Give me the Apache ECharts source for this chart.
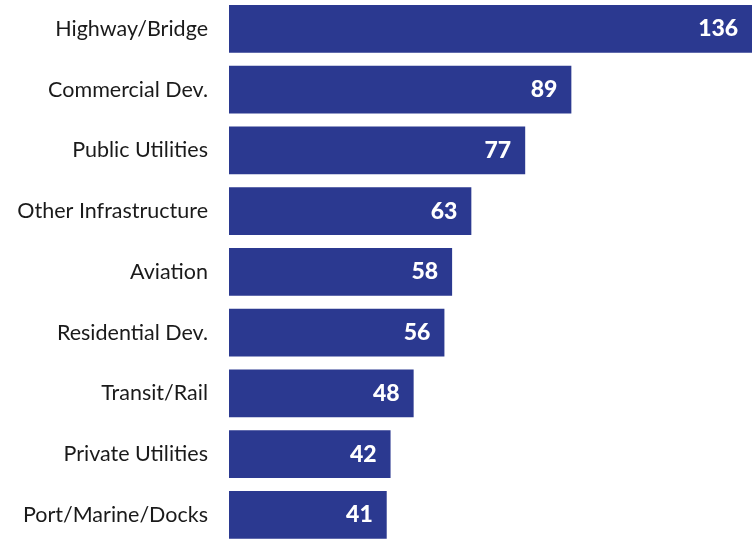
<!DOCTYPE html>
<html><head><meta charset="utf-8">
<script src="https://cdn.jsdelivr.net/npm/echarts@6/dist/echarts.min.js"></script>
<style>html,body{margin:0;padding:0;background:#fff;overflow:hidden;width:752px;height:541px}
#c{position:absolute;left:0;top:-2px;width:756px;height:548px}</style>
</head><body><div id="c"></div>
<script>
const categories = ["Highway/Bridge","Commercial Dev.","Public Utilities","Other Infrastructure","Aviation","Residential Dev.","Transit/Rail","Private Utilities","Port/Marine/Docks"];
const values = [136,89,77,63,58,56,48,42,41];

const chart = echarts.init(document.getElementById('c'), null, {renderer:'canvas'});
chart.setOption({
  animation:false,
  grid:{left:229, right:0, top:0.5, height:546.75, containLabel:false},
  xAxis:{type:'value', min:0, max:137, show:false},
  yAxis:{type:'category', data:categories, inverse:true,
    axisLine:{show:false}, axisTick:{show:false},
    axisLabel:{color:'#1a1a1a', fontSize:21.5, fontFamily:'Lato, sans-serif', margin:21}},
  series:[{type:'bar', data:values, barCategoryGap:'21.5%',
    itemStyle:{color:'#2b3990'},
    label:{show:true, position:'insideRight', distance:14, color:'#fff',
      fontSize:23, fontWeight:900, fontFamily:'Lato, sans-serif'}}]
});
</script></body></html>
